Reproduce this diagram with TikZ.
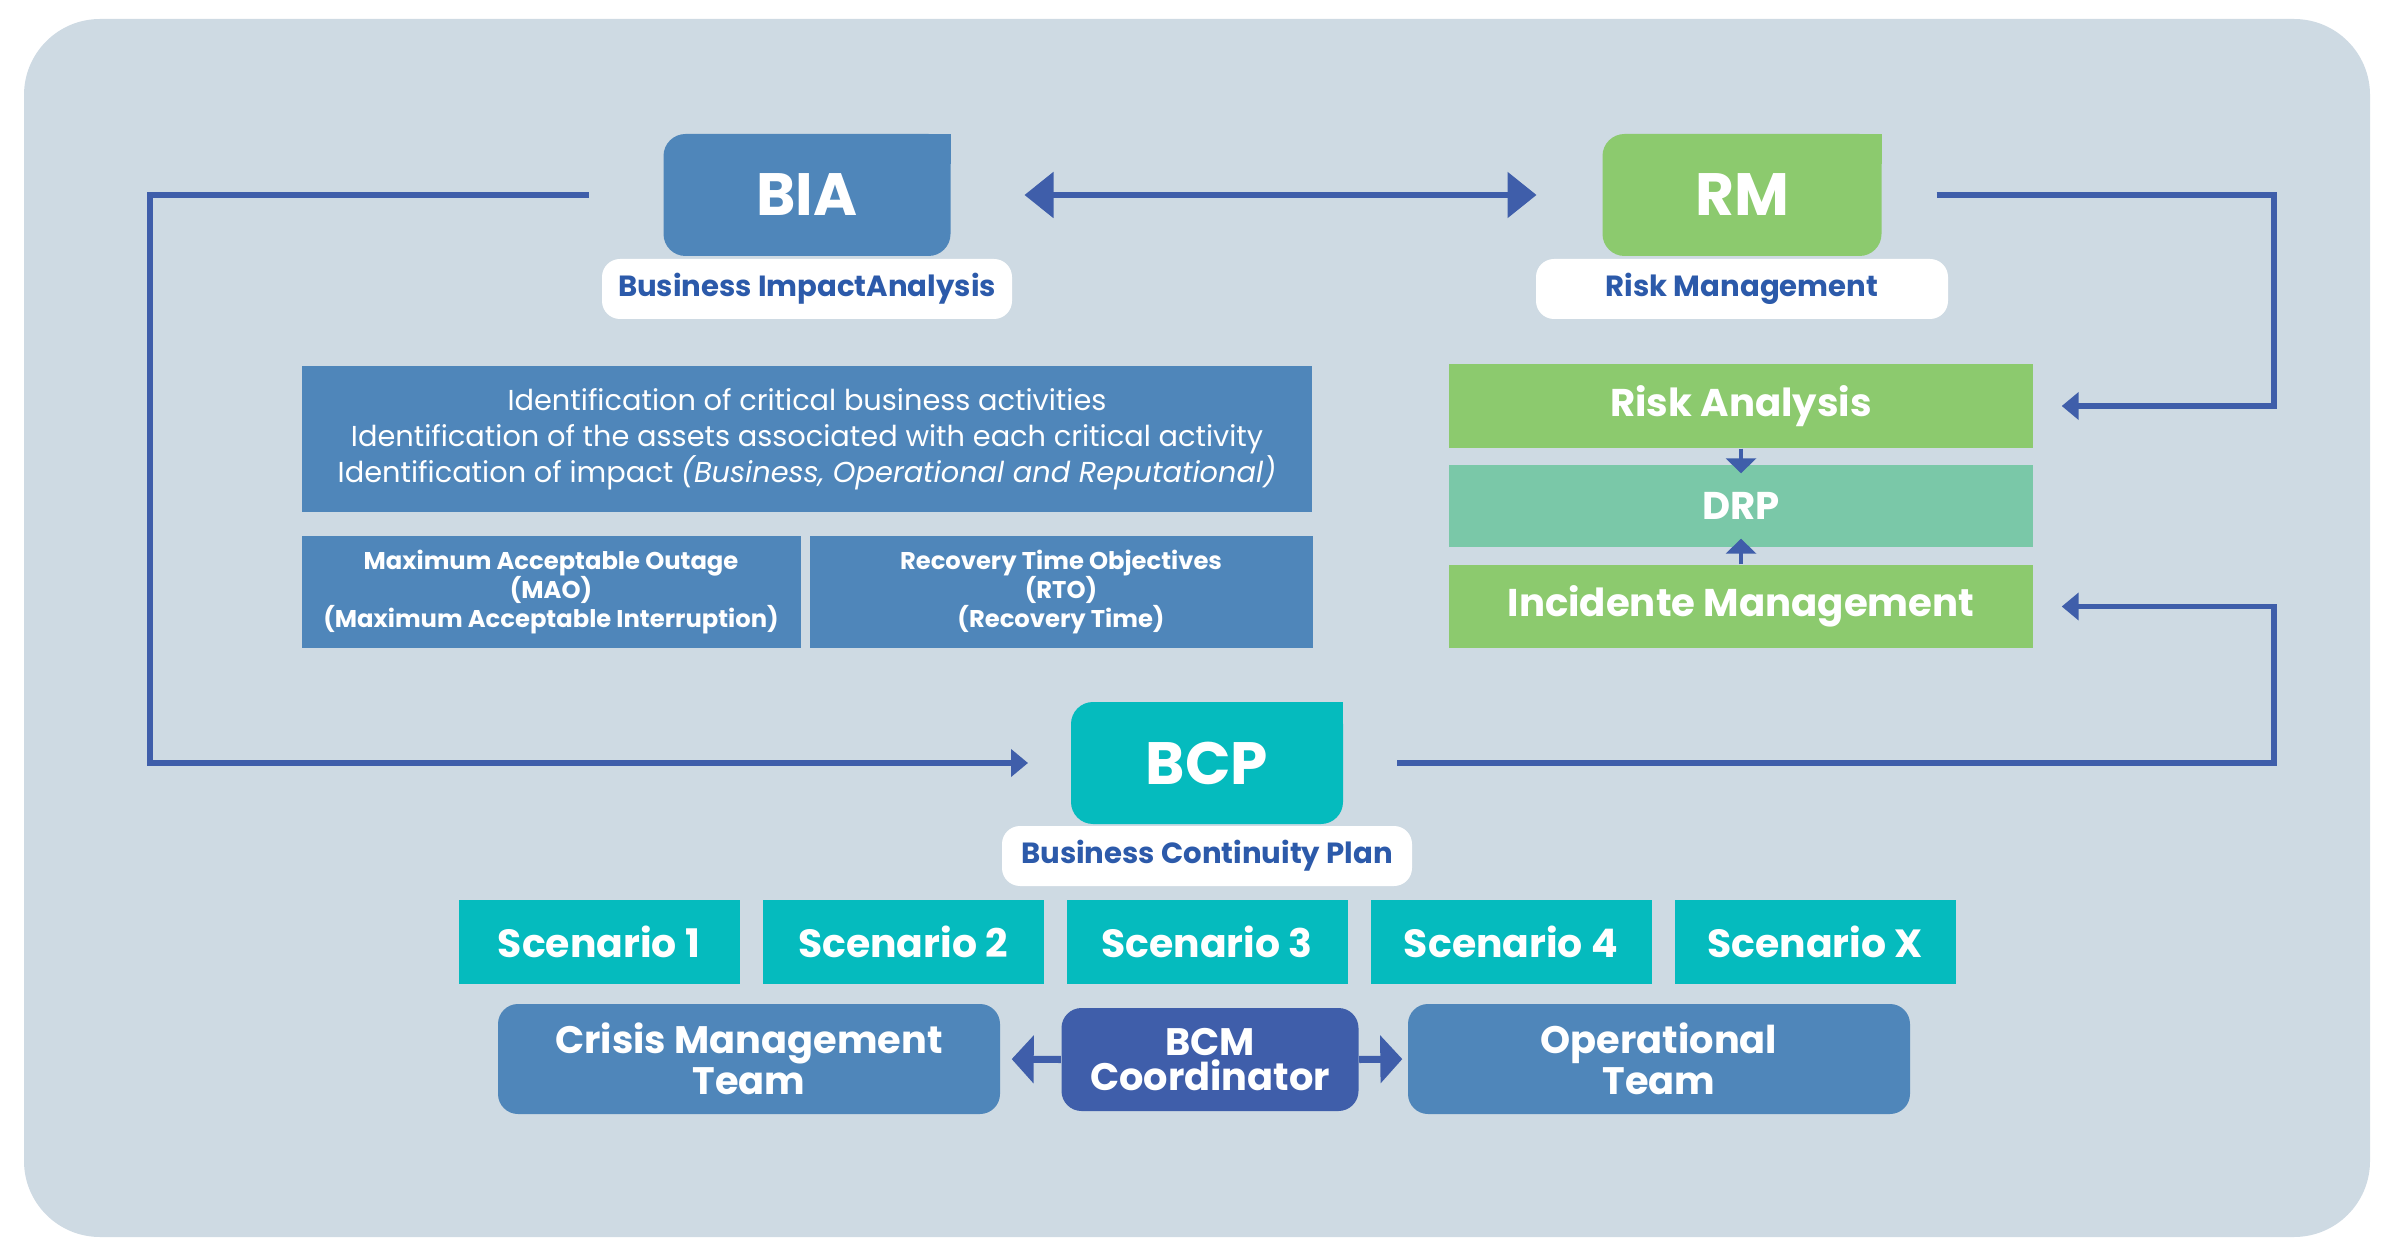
\documentclass[tikz,border=0pt]{standalone}
\usepackage{fontspec}
\setmainfont{Poppins}
\usetikzlibrary{arrows.meta}

\definecolor{bgpanel}{HTML}{CEDAE3}
\definecolor{biablue}{HTML}{4F86BA}
\definecolor{rmgreen}{HTML}{8CCA6E}
\definecolor{drpgreen}{HTML}{7AC8A8}
\definecolor{bcpteal}{HTML}{05BBBE}
\definecolor{bcmblue}{HTML}{3F5EAA}
\definecolor{labelblue}{HTML}{2C5AAA}

\begin{document}
\begin{tikzpicture}[x=1cm,y=1cm]
\tikzset{
  headbox/.style={fill=#1,text=white,rounded corners=0.22cm,inner sep=0pt,outer sep=0pt,minimum height=1.22cm,font=\fontsize{17}{20}\selectfont\bfseries},
  tagbox/.style={fill=white,text=labelblue,rounded corners=0.18cm,inner sep=0pt,minimum width=4.1cm,minimum height=0.6cm,font=\fontsize{8.3}{9}\selectfont\bfseries},
  infobox/.style={fill=biablue,text=white,inner sep=0pt,align=center},
  stepbox/.style={fill=#1,text=white,inner sep=0pt,minimum width=5.84cm,minimum height=0.83cm,font=\fontsize{11}{12}\selectfont\bfseries},
  scenbox/.style={fill=bcpteal,text=white,inner sep=0pt,minimum width=2.81cm,minimum height=0.84cm,font=\fontsize{11.2}{12}\selectfont\bfseries},
  teambox/.style={fill=#1,text=white,rounded corners=0.2cm,inner sep=0pt,align=center,font=\fontsize{10.9}{10}\selectfont\bfseries},
  flow/.style={draw=bcmblue,line width=1.6pt,-{Triangle[length=1.7mm,width=2.7mm]}},
  bigflow/.style={draw=bcmblue,line width=1.6pt,{Triangle[length=2.9mm,width=4.5mm]}-{Triangle[length=2.9mm,width=4.5mm]}},
  smallflow/.style={draw=bcmblue,line width=1.4pt,-{Triangle[length=1.5mm,width=3mm]},shorten >=-0.09cm},
  teamflow/.style={draw=bcmblue,line width=2pt,-{Triangle[length=2.2mm,width=4.7mm]}}
}
\useasboundingbox (0,0) rectangle (23.9,12.55);
\fill[bgpanel,rounded corners=0.76cm] (0.24,0.18) rectangle (23.70,12.36);

\node[headbox=biablue,minimum width=2.87cm] (n_bia) at (8.07,10.60) {BIA};
\fill[biablue] (n_bia.north east) rectangle ++(-0.3,-0.3);
\node[tagbox] (n_biatag) at (8.07,9.66) {Business ImpactAnalysis};
\node[headbox=rmgreen,minimum width=2.79cm] (n_rm) at (17.42,10.60) {RM};
\fill[rmgreen] (n_rm.north east) rectangle ++(-0.3,-0.3);
\node[tagbox,minimum width=4.12cm] (n_rmtag) at (17.42,9.66) {Risk Management};

\node[infobox,minimum width=10.10cm,minimum height=1.46cm,font=\fontsize{8.2}{10.2}\selectfont] (n_desc) at (8.07,8.16)
  {Identification of critical business activities\\
   Identification of the assets associated with each critical activity\\
   Identification of impact \textit{(Business, Operational and Reputational)}};
\node[infobox,minimum width=4.99cm,minimum height=1.12cm,font=\fontsize{6.9}{8.3}\selectfont\bfseries] (n_mao) at (5.51,6.63)
  {Maximum Acceptable Outage\\(MAO)\\(Maximum Acceptable Interruption)};
\node[infobox,minimum width=5.03cm,minimum height=1.12cm,font=\fontsize{6.9}{8.3}\selectfont\bfseries] (n_rto) at (10.61,6.63)
  {Recovery Time Objectives\\(RTO)\\(Recovery Time)};

\node[stepbox=rmgreen,minimum height=0.84cm] (n_risk) at (17.41,8.49) {Risk Analysis};
\node[stepbox=drpgreen,minimum height=0.82cm] (n_drp) at (17.41,7.49) {DRP};
\node[stepbox=rmgreen] (n_incid) at (17.41,6.485) {Incidente Management};

\node[headbox=bcpteal,minimum width=2.72cm] (n_bcp) at (12.07,4.92) {BCP};
\fill[bcpteal] (n_bcp.north east) rectangle ++(-0.3,-0.3);
\node[tagbox] (n_bcptag) at (12.07,3.99) {Business Continuity Plan};

\node[scenbox] (n_s1) at (5.99,3.13) {Scenario 1};
\node[scenbox] (n_s2) at (9.03,3.13) {Scenario 2};
\node[scenbox] (n_s3) at (12.07,3.13) {Scenario 3};
\node[scenbox] (n_s4) at (15.11,3.13) {Scenario 4};
\node[scenbox] (n_sx) at (18.15,3.13) {Scenario X};

\node[teambox=biablue,minimum width=5.02cm,minimum height=1.10cm] (n_cmt) at (7.49,1.96) {Crisis Management\\Team};
\node[teambox=bcmblue,minimum width=2.97cm,minimum height=1.03cm] (n_bcm) at (12.10,1.955) {BCM\\Coordinator};
\node[teambox=biablue,minimum width=5.02cm,minimum height=1.10cm] (n_opt) at (16.59,1.96) {Operational\\Team};

\coordinate (n_left) at (1.50,0);
\coordinate (n_right) at (22.74,0);

\draw[bigflow,shorten <=0.74cm,shorten >=0.66cm] (n_bia.east) -- (n_rm.west);
\draw[flow,shorten <=0.75cm,shorten >=0.43cm] (n_bia.west) -- (n_bia.west -| n_left) |- (n_bcp.west);
\draw[flow,shorten <=0.55cm,shorten >=0.28cm] (n_rm.east) -- (n_rm.east -| n_right) |- (n_risk.east);
\draw[flow,shorten <=0.54cm,shorten >=0.28cm] (n_bcp.east) -- (n_bcp.east -| n_right) |- (n_incid.east);
\draw[smallflow] (n_risk.south) -- (n_drp.north);
\draw[smallflow] (n_incid.north) -- (n_drp.south);
\draw[teamflow,shorten >=0.11cm] (n_bcm.west) -- (n_cmt.east);
\draw[teamflow,shorten >=0.05cm] (n_bcm.east) -- (n_opt.west);
\end{tikzpicture}
\end{document}
